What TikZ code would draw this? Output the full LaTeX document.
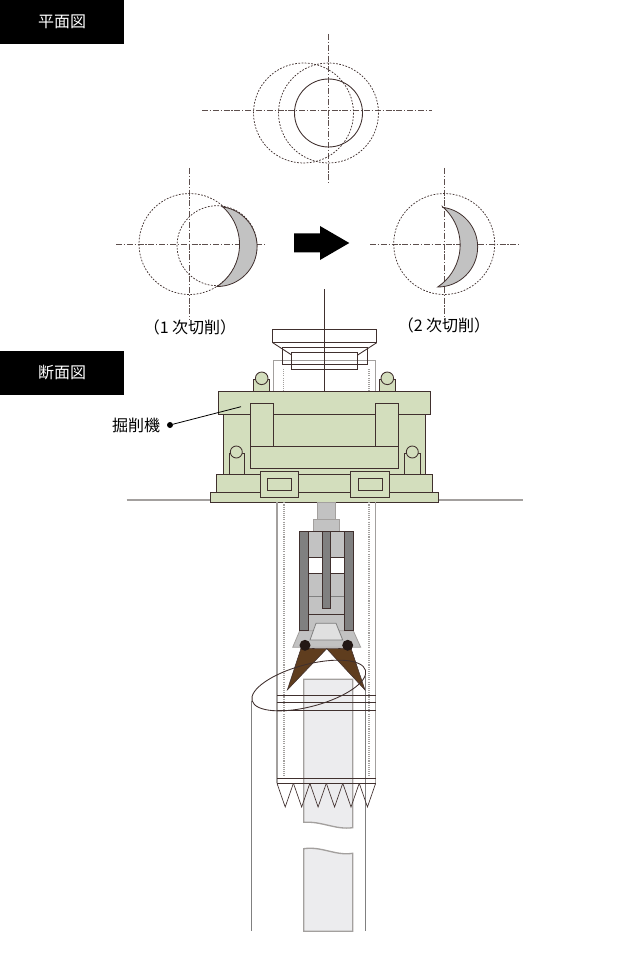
\documentclass[tikz,border=0pt]{standalone}
\usepackage{fontspec}
\setmainfont{Noto Sans CJK JP}
\definecolor{inkline}{HTML}{40302E}
\definecolor{softline}{HTML}{A3A09E}
\definecolor{machinegreen}{HTML}{D3DEBD}
\definecolor{steelgray}{HTML}{C2C2C2}
\definecolor{darksteel}{HTML}{808080}
\definecolor{palesteel}{HTML}{E0E0E0}
\definecolor{bladebrown}{HTML}{5F3D1E}
\definecolor{corefill}{HTML}{ECECEE}
\definecolor{pindark}{HTML}{231815}
\tikzset{
  heading/.style={fill=black, text=white, minimum width=93pt, minimum height=33pt, inner sep=0pt, font=\fontsize{12pt}{14pt}\selectfont},
  caption/.style={inner sep=0pt, font=\fontsize{12pt}{14pt}\selectfont},
  axisline/.style={inkline!85, line width=0.5pt, dash pattern=on 4.5pt off 1.3pt on 1pt off 1.3pt},
  hole/.style={inkline, line width=0.55pt, dash pattern=on 1.3pt off 1.1pt},
  cutface/.style={draw=inkline, fill=steelgray, line width=0.6pt},
  green/.style={draw=inkline, fill=machinegreen, line width=0.65pt},
  tube/.style={softline, line width=1pt},
  tubedots/.style={softline, line width=0.8pt, dash pattern=on 0.8pt off 0.8pt},
  thin/.style={inkline, line width=0.65pt},
  steel/.style={draw=inkline, fill=steelgray, line width=0.6pt},
  dark/.style={draw=inkline, fill=darksteel, line width=0.6pt},
  core/.style={draw=softline, fill=corefill, line width=1pt}
}
\begin{document}
\begin{tikzpicture}[x=0.75pt, y=-0.75pt]
  \useasboundingbox (0, 0) rectangle (635, 966);

  \node[heading] at (62, 22)  (planhead)    {平面図};
  \node[heading] at (62, 373) (sectionhead) {断面図};

  % plan
  \draw[axisline] (202, 110) -- (432, 110);
  \draw[axisline] (328.3, 34) -- (328.3, 183);
  \draw[hole] (303.5, 113) circle [radius=50];
  \draw[hole] (328.5, 113) circle [radius=50];
  \draw[thin] (328.5, 113) circle [radius=34];

  \draw[axisline] (116, 244) -- (266, 244);
  \draw[axisline] (189.3, 168) -- (189.3, 320);
  \draw[hole] (189.5, 244) circle [radius=50.5];
  \draw[hole] (217, 245.7) circle [radius=40];
  \draw[cutface] (221.7, 206) arc [start angle=-49.7, end angle=56.3, radius=50.5]
    arc [start angle=90, end angle=-83, radius=40] -- cycle;

  \draw[axisline] (370, 244) -- (521, 244);
  \draw[axisline] (444, 168) -- (444, 320);
  \draw[hole] (444.2, 244) circle [radius=50.5];
  \draw[cutface] (442.3, 206.5) arc [start angle=-49.7, end angle=56.3, radius=50.5]
    arc [start angle=90, end angle=-83, radius=40] -- cycle;

  \fill[black] (294, 233.3) -- (320, 233.3) -- (320, 226) -- (349.3, 243) -- (320, 260) -- (320, 252.3) -- (294, 252.3) -- cycle;

  \node[caption] at (190, 327) (firstcut)  {（1 次切削）};
  \node[caption] at (444, 325) (secondcut) {（2 次切削）};

  % casing above the machine
  \draw[tube] (273.7, 391) -- (273.7, 360.3) -- (375.7, 360.3) -- (375.7, 391);
  \draw[tubedots] (283.7, 369) -- (283.7, 391);
  \draw[tubedots] (369, 369) -- (369, 391);
  \draw[thin] (272.7, 342.7) rectangle (376.7, 329.3);
  \draw[thin] (272.7, 342.7) -- (291.7, 355);
  \draw[thin] (376.7, 342.7) -- (357.7, 355);
  \draw[thin] (282.3, 347.3) rectangle (367, 364.3);
  \draw[thin] (291.3, 352.3) rectangle (357.7, 369.3);
  \draw[thin] (324.3, 289) -- (324.3, 391);

  % ground
  \draw[tube] (126.7, 500) -- (522.7, 500);

  % machine
  \draw[green] (253.7, 379.3) rectangle (269.3, 391.7);
  \draw[green] (379.3, 379.3) rectangle (395.3, 391.7);
  \draw[green] (261.7, 378.3) circle [radius=6.3];
  \draw[green] (387.3, 378.3) circle [radius=6.3];
  \draw[green] (223.3, 414.3) rectangle (425.7, 474);
  \draw[green] (218.7, 391.7) rectangle (430.7, 414.3);
  \draw[green] (250.3, 403.3) rectangle (273.7, 446);
  \draw[green] (375.7, 403.3) rectangle (398.7, 446);
  \draw[thin] (273.7, 414.3) -- (375.7, 414.3);
  \draw[green] (250.3, 446) rectangle (398.7, 468.3);
  \draw[green] (229, 453.3) rectangle (244.7, 475);
  \draw[green] (404.3, 453.3) rectangle (420.3, 475);
  \draw[green] (236.3, 452) circle [radius=6];
  \draw[green] (412.3, 452) circle [radius=6];
  \draw[green] (216.3, 474) rectangle (432.7, 492.7);
  \draw[green] (210.3, 492.7) rectangle (438.3, 502.3);
  \draw[green] (260, 471.7) rectangle (298.7, 497.3);
  \draw[green] (267, 478.7) rectangle (291.7, 490.7);
  \draw[green] (350.7, 471.7) rectangle (389.3, 497.3);
  \draw[green] (358, 478.7) rectangle (382.7, 490.7);

  \node[caption] at (136, 425) (cutterlabel) {掘削機};
  \node[circle, fill=black, inner sep=0pt, minimum size=4.5pt] at (170, 425) (cutterdot) {};
  \coordinate (cutterend) at (241, 406.7);
  \draw[black, line width=0.6pt] (cutterdot) -- (cutterend);

  % core and pipe
  \draw[core] (303.7, 822.3) -- (303.7, 679.3) -- (352.7, 679.3) -- (352.7, 827.7)
    .. controls (335, 830) and (322, 821) .. cycle;
  \draw[core] (303.7, 931.3) -- (303.7, 848.7) .. controls (322, 846) and (335, 856) .. (352.7, 853.3)
    -- (352.7, 931.3) -- cycle;
  \draw[tube, draw=darksteel] (251.7, 701) -- (251.7, 931.3);
  \draw[tube, draw=darksteel] (365.7, 676) -- (365.7, 931.3);

  % casing below the machine
  \draw[tube] (277, 502.3) -- (277, 783.3);
  \draw[tube] (375.7, 502.3) -- (375.7, 783.3);
  \draw[tubedots] (284, 502.3) -- (284, 778.3);
  \draw[tubedots] (369, 502.3) -- (369, 778.3);
  \foreach \ypos in {695.3, 702.3, 710, 778.3, 783.3}
    \draw[thin] (277, \ypos) -- (375.7, \ypos);
  \foreach \xpos in {277, 293.45, 309.9, 326.35, 342.8, 359.25}
    \draw[inkline, line width=0.5pt] (\xpos, 783.3) -- ++(8.2, 23.7) -- ++(8.2, -23.7);

  % cutter arm
  \draw[steel, draw=softline] (317.7, 502.3) rectangle (335.3, 519.3);
  \draw[steel, draw=softline] (313.3, 519.3) rectangle (339.3, 531);
  \draw[steel] (308.7, 531) rectangle (344.3, 631);
  \fill[white] (308.7, 557.3) rectangle (322.7, 573.3);
  \fill[white] (330.7, 557.3) rectangle (344.3, 573.3);
  \draw[thin] (308.7, 557.3) -- (344.3, 557.3);
  \draw[thin] (308.7, 573.3) -- (344.3, 573.3);
  \draw[thin, draw=darksteel] (308.7, 596.7) -- (344.3, 596.7);
  \draw[thin] (308.7, 614.3) -- (344.3, 614.3);
  \draw[steel, draw=softline] (299.7, 630.7) -- (353.3, 630.7) -- (360.7, 647.3) -- (292.7, 647.3) -- cycle;
  \draw[dark] (322.7, 531) rectangle (330.7, 608.3);
  \draw[dark] (299.7, 531) rectangle (308.7, 630.7);
  \draw[dark] (344.3, 531) rectangle (353.3, 630.7);
  \draw[draw=darksteel, fill=palesteel, line width=0.6pt] (316, 623.3) -- (336, 623.3) -- (342.7, 640) -- (310, 640) -- cycle;
  \draw[draw=inkline, fill=bladebrown, line width=0.4pt] (301, 648.3) -- (287.3, 690) -- (326.7, 648.7) -- cycle;
  \draw[draw=inkline, fill=bladebrown, line width=0.4pt] (326.7, 648.7) -- (365, 690) -- (351, 648.3) -- cycle;
  \fill[pindark] (305, 645.3) circle [radius=5.5];
  \fill[pindark] (347.7, 645.3) circle [radius=5.5];

  \draw[thin] (308.8, 685.5) ellipse [x radius=58.7, y radius=21, rotate=15];
\end{tikzpicture}
\end{document}
